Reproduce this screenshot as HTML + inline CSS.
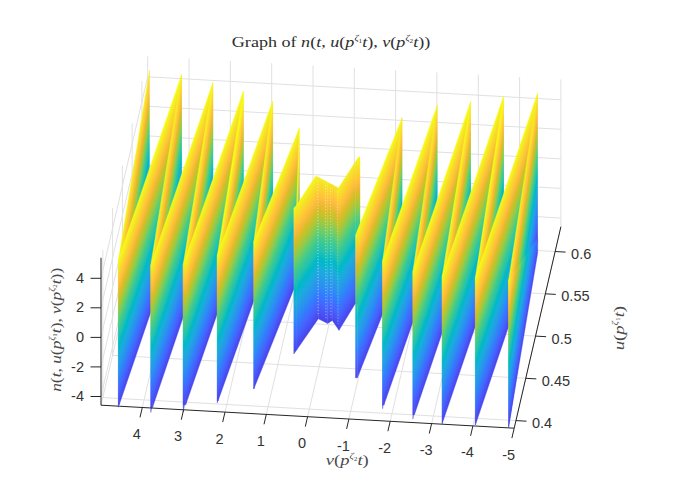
<!DOCTYPE html>
<html><head><meta charset="utf-8"><style>
html,body{margin:0;padding:0;background:#fff;}
svg{display:block;}
.tk{font-family:"Liberation Sans",sans-serif;font-size:14.5px;fill:#333;}
.mt{font-family:"Liberation Serif",serif;fill:#2e2e2e;}
.lb{fill:#4a4a4a;}
</style></head><body>
<svg width="677" height="478" viewBox="0 0 677 478">
<defs><linearGradient id="pa"><stop offset="0.000" stop-color="#4743e7"/><stop offset="0.025" stop-color="#484bef"/><stop offset="0.050" stop-color="#4853f5"/><stop offset="0.075" stop-color="#475bf9"/><stop offset="0.100" stop-color="#4563fd"/><stop offset="0.125" stop-color="#416bfe"/><stop offset="0.150" stop-color="#3974fe"/><stop offset="0.175" stop-color="#317dfc"/><stop offset="0.200" stop-color="#2e85f8"/><stop offset="0.225" stop-color="#2d8df3"/><stop offset="0.250" stop-color="#2994ed"/><stop offset="0.275" stop-color="#259be8"/><stop offset="0.300" stop-color="#22a1e4"/><stop offset="0.325" stop-color="#1da8e0"/><stop offset="0.350" stop-color="#17aeda"/><stop offset="0.375" stop-color="#0cb3d3"/><stop offset="0.400" stop-color="#01b8ca"/><stop offset="0.425" stop-color="#05bbc1"/><stop offset="0.450" stop-color="#16bfb7"/><stop offset="0.475" stop-color="#26c2ad"/><stop offset="0.500" stop-color="#2fc5a2"/><stop offset="0.525" stop-color="#38c896"/><stop offset="0.550" stop-color="#44cb89"/><stop offset="0.575" stop-color="#56cc7b"/><stop offset="0.600" stop-color="#68cd6b"/><stop offset="0.625" stop-color="#7dcc5c"/><stop offset="0.650" stop-color="#91ca4c"/><stop offset="0.675" stop-color="#a5c83d"/><stop offset="0.700" stop-color="#b9c431"/><stop offset="0.725" stop-color="#cac129"/><stop offset="0.750" stop-color="#dabd28"/><stop offset="0.775" stop-color="#e9bb2f"/><stop offset="0.800" stop-color="#f5ba3a"/><stop offset="0.825" stop-color="#febe3c"/><stop offset="0.850" stop-color="#fec636"/><stop offset="0.875" stop-color="#fccf30"/><stop offset="0.900" stop-color="#f9d82c"/><stop offset="0.925" stop-color="#f5e128"/><stop offset="0.950" stop-color="#f5ea24"/><stop offset="0.975" stop-color="#f6f21d"/><stop offset="1.000" stop-color="#f9fb15"/></linearGradient><linearGradient id="g1" href="#pa" gradientUnits="userSpaceOnUse" x1="118.4" y1="407.2" x2="94.9" y2="403.4"/><linearGradient id="g2" href="#pa" gradientUnits="userSpaceOnUse" x1="118.4" y1="404.9" x2="74.2" y2="272.2"/><linearGradient id="g3" href="#pa" gradientUnits="userSpaceOnUse" x1="119.3" y1="404.6" x2="74.3" y2="389.2"/><linearGradient id="g4" href="#pa" gradientUnits="userSpaceOnUse" x1="150.8" y1="412.6" x2="127.6" y2="408.9"/><linearGradient id="g5" href="#pa" gradientUnits="userSpaceOnUse" x1="150.8" y1="407.6" x2="126.9" y2="264.1"/><linearGradient id="g6" href="#pa" gradientUnits="userSpaceOnUse" x1="152.6" y1="407.3" x2="107.7" y2="392.1"/><linearGradient id="g7" href="#pa" gradientUnits="userSpaceOnUse" x1="183.2" y1="412.1" x2="159.8" y2="408.3"/><linearGradient id="g8" href="#pa" gradientUnits="userSpaceOnUse" x1="183.2" y1="404.9" x2="166.4" y2="259.4"/><linearGradient id="g9" href="#pa" gradientUnits="userSpaceOnUse" x1="185.8" y1="404.6" x2="140.2" y2="388.8"/><linearGradient id="g10" href="#pa" gradientUnits="userSpaceOnUse" x1="217.3" y1="403" x2="194.5" y2="399.3"/><linearGradient id="g11" href="#pa" gradientUnits="userSpaceOnUse" x1="217.3" y1="401.3" x2="163.9" y2="276.7"/><linearGradient id="g12" href="#pa" gradientUnits="userSpaceOnUse" x1="218" y1="401" x2="171.2" y2="384.3"/><linearGradient id="g13" href="#pa" gradientUnits="userSpaceOnUse" x1="253.8" y1="389" x2="234.4" y2="386.4"/><linearGradient id="g14" href="#pa" gradientUnits="userSpaceOnUse" x1="253.8" y1="389" x2="202.8" y2="368.6"/><linearGradient id="g15" href="#pa" gradientUnits="userSpaceOnUse" x1="296.6" y1="350" x2="291.4" y2="349.8"/><linearGradient id="g16" href="#pa" gradientUnits="userSpaceOnUse" x1="293.8" y1="354" x2="224.5" y2="305.5"/><linearGradient id="g17" href="#pa" gradientUnits="userSpaceOnUse" x1="296.6" y1="350" x2="227.5" y2="301.9"/><linearGradient id="g18" href="#pa" gradientUnits="userSpaceOnUse" x1="318.3" y1="318.8" x2="376.9" y2="200.3"/><linearGradient id="g19" href="#pa" gradientUnits="userSpaceOnUse" x1="327.6" y1="323.4" x2="261.7" y2="216.6"/><linearGradient id="g20" href="#pa" gradientUnits="userSpaceOnUse" x1="332.3" y1="320.5" x2="401" y2="273.5"/><linearGradient id="g21" href="#pa" gradientUnits="userSpaceOnUse" x1="339" y1="330.3" x2="273.4" y2="290.2"/><linearGradient id="g22" href="#pa" gradientUnits="userSpaceOnUse" x1="355.2" y1="303.8" x2="364.4" y2="156.9"/><linearGradient id="g23" href="#pa" gradientUnits="userSpaceOnUse" x1="355.5" y1="377.9" x2="333.9" y2="233.7"/><linearGradient id="g24" href="#pa" gradientUnits="userSpaceOnUse" x1="357.5" y1="377.6" x2="307" y2="357.6"/><linearGradient id="g25" href="#pa" gradientUnits="userSpaceOnUse" x1="382.6" y1="408.7" x2="363" y2="406.1"/><linearGradient id="g26" href="#pa" gradientUnits="userSpaceOnUse" x1="382.6" y1="405.3" x2="350.3" y2="265.3"/><linearGradient id="g27" href="#pa" gradientUnits="userSpaceOnUse" x1="383.9" y1="405" x2="338" y2="388.9"/><linearGradient id="g28" href="#pa" gradientUnits="userSpaceOnUse" x1="412.9" y1="419.1" x2="391.9" y2="416.1"/><linearGradient id="g29" href="#pa" gradientUnits="userSpaceOnUse" x1="412.9" y1="414.7" x2="386.2" y2="272.3"/><linearGradient id="g30" href="#pa" gradientUnits="userSpaceOnUse" x1="414.5" y1="414.4" x2="369.7" y2="399.2"/><linearGradient id="g31" href="#pa" gradientUnits="userSpaceOnUse" x1="442.2" y1="423.6" x2="418.9" y2="419.8"/><linearGradient id="g32" href="#pa" gradientUnits="userSpaceOnUse" x1="442.2" y1="423.6" x2="397.2" y2="408.3"/><linearGradient id="g33" href="#pa" gradientUnits="userSpaceOnUse" x1="475.4" y1="425" x2="453.1" y2="421.5"/><linearGradient id="g34" href="#pa" gradientUnits="userSpaceOnUse" x1="475.4" y1="425" x2="430.8" y2="410"/><linearGradient id="g35" href="#pa" gradientUnits="userSpaceOnUse" x1="508.6" y1="427.3" x2="486.3" y2="423.9"/><linearGradient id="g36" href="#pa" gradientUnits="userSpaceOnUse" x1="508.6" y1="427.3" x2="484.7" y2="423.3"/></defs>
<g><line x1="560.9" y1="226.7" x2="560.9" y2="79.3" stroke="#e0e0e0" stroke-width="1"/><line x1="519.6" y1="224.4" x2="519.6" y2="77" stroke="#e0e0e0" stroke-width="1"/><line x1="478.3" y1="222.1" x2="478.3" y2="74.7" stroke="#e0e0e0" stroke-width="1"/><line x1="436.9" y1="219.8" x2="436.9" y2="72.4" stroke="#e0e0e0" stroke-width="1"/><line x1="395.6" y1="217.5" x2="395.6" y2="70.1" stroke="#e0e0e0" stroke-width="1"/><line x1="354.3" y1="215.2" x2="354.3" y2="67.8" stroke="#e0e0e0" stroke-width="1"/><line x1="313" y1="212.9" x2="313" y2="65.5" stroke="#e0e0e0" stroke-width="1"/><line x1="271.7" y1="210.6" x2="271.7" y2="63.2" stroke="#e0e0e0" stroke-width="1"/><line x1="230.3" y1="208.3" x2="230.3" y2="60.9" stroke="#e0e0e0" stroke-width="1"/><line x1="189" y1="206" x2="189" y2="58.6" stroke="#e0e0e0" stroke-width="1"/><line x1="147.7" y1="203.7" x2="147.7" y2="56.3" stroke="#e0e0e0" stroke-width="1"/><line x1="147.7" y1="195" x2="560.9" y2="218" stroke="#e0e0e0" stroke-width="1"/><line x1="147.7" y1="165.4" x2="560.9" y2="188.4" stroke="#e0e0e0" stroke-width="1"/><line x1="147.7" y1="135.9" x2="560.9" y2="158.9" stroke="#e0e0e0" stroke-width="1"/><line x1="147.7" y1="106.3" x2="560.9" y2="129.3" stroke="#e0e0e0" stroke-width="1"/><line x1="147.7" y1="76.8" x2="560.9" y2="99.8" stroke="#e0e0e0" stroke-width="1"/><line x1="102.8" y1="397.6" x2="102.8" y2="250.1" stroke="#e0e0e0" stroke-width="1"/><line x1="112.6" y1="355.3" x2="112.6" y2="207.9" stroke="#e0e0e0" stroke-width="1"/><line x1="122.4" y1="313.1" x2="122.4" y2="165.6" stroke="#e0e0e0" stroke-width="1"/><line x1="132.1" y1="270.8" x2="132.1" y2="123.4" stroke="#e0e0e0" stroke-width="1"/><line x1="141.9" y1="228.5" x2="141.9" y2="81.1" stroke="#e0e0e0" stroke-width="1"/><line x1="101" y1="396.5" x2="147.7" y2="195" stroke="#e0e0e0" stroke-width="1"/><line x1="101" y1="366.9" x2="147.7" y2="165.4" stroke="#e0e0e0" stroke-width="1"/><line x1="101" y1="337.4" x2="147.7" y2="135.9" stroke="#e0e0e0" stroke-width="1"/><line x1="101" y1="307.8" x2="147.7" y2="106.3" stroke="#e0e0e0" stroke-width="1"/><line x1="101" y1="278.3" x2="147.7" y2="76.8" stroke="#e0e0e0" stroke-width="1"/><line x1="514.2" y1="428.2" x2="560.9" y2="226.7" stroke="#e0e0e0" stroke-width="1"/><line x1="472.9" y1="425.9" x2="519.6" y2="224.4" stroke="#e0e0e0" stroke-width="1"/><line x1="431.6" y1="423.6" x2="478.3" y2="222.1" stroke="#e0e0e0" stroke-width="1"/><line x1="390.2" y1="421.3" x2="436.9" y2="219.8" stroke="#e0e0e0" stroke-width="1"/><line x1="348.9" y1="419" x2="395.6" y2="217.5" stroke="#e0e0e0" stroke-width="1"/><line x1="307.6" y1="416.7" x2="354.3" y2="215.2" stroke="#e0e0e0" stroke-width="1"/><line x1="266.3" y1="414.4" x2="313" y2="212.9" stroke="#e0e0e0" stroke-width="1"/><line x1="225" y1="412.1" x2="271.7" y2="210.6" stroke="#e0e0e0" stroke-width="1"/><line x1="183.6" y1="409.8" x2="230.3" y2="208.3" stroke="#e0e0e0" stroke-width="1"/><line x1="142.3" y1="407.5" x2="189" y2="206" stroke="#e0e0e0" stroke-width="1"/><line x1="101" y1="405.2" x2="147.7" y2="203.7" stroke="#e0e0e0" stroke-width="1"/><line x1="102.8" y1="397.6" x2="516" y2="420.6" stroke="#e0e0e0" stroke-width="1"/><line x1="112.6" y1="355.3" x2="525.8" y2="378.3" stroke="#e0e0e0" stroke-width="1"/><line x1="122.4" y1="313.1" x2="535.6" y2="336.1" stroke="#e0e0e0" stroke-width="1"/><line x1="132.1" y1="270.8" x2="545.3" y2="293.8" stroke="#e0e0e0" stroke-width="1"/><line x1="141.9" y1="228.5" x2="555.1" y2="251.5" stroke="#e0e0e0" stroke-width="1"/></g>
<g><polygon points="118.4,259.8 120.5,247.1 122.5,234.5 124.6,221.8 126.7,209.2 128.8,196.5 130.8,183.9 132.9,171.2 135,158.6 137.1,145.9 139.1,133.3 141.2,120.6 143.3,108 145.4,95.3 147.4,82.7 149.5,70 149.5,217.4 118.4,407.2" fill="url(#g1)" stroke="url(#g1)" stroke-width="0.4" stroke-linejoin="round"/>
<polygon points="118.4,259.8 119.3,257.2 119.3,404.6 118.4,404.9" fill="url(#g2)" stroke="url(#g2)" stroke-width="0.4" stroke-linejoin="round"/>
<polygon points="119.3,257.2 121.3,251.3 123.3,245.4 125.3,239.5 127.3,233.6 129.3,227.7 131.3,221.8 133.3,216 135.4,210.1 137.4,204.2 139.4,198.3 141.4,192.4 143.4,186.5 145.4,180.6 147.4,174.8 149.4,168.9 151.4,163 153.4,157.1 155.4,151.2 157.4,145.3 159.4,139.4 161.4,133.6 163.4,127.7 165.4,121.8 167.5,115.9 169.5,110 171.5,104.1 173.5,98.2 175.5,92.4 177.5,86.5 179.5,80.6 181.5,74.7 181.5,222.1 119.3,404.6" fill="url(#g3)" stroke="url(#g3)" stroke-width="0.4" stroke-linejoin="round"/>
<polygon points="150.8,265.2 152.8,252.5 154.9,239.8 156.9,227.1 159,214.4 161,201.7 163.1,189 165.1,176.3 167.2,163.6 169.2,150.9 171.3,138.2 173.3,125.5 175.4,112.8 177.4,100.1 179.5,87.4 181.5,74.7 181.5,222.1 150.8,412.6" fill="url(#g4)" stroke="url(#g4)" stroke-width="0.4" stroke-linejoin="round"/>
<polygon points="150.8,265.2 152.6,259.9 152.6,407.3 150.8,407.6" fill="url(#g5)" stroke="url(#g5)" stroke-width="0.4" stroke-linejoin="round"/>
<polygon points="152.6,259.9 154.6,253.9 156.6,248 158.6,242.1 160.6,236.2 162.6,230.3 164.6,224.4 166.6,218.5 168.7,212.6 170.7,206.7 172.7,200.8 174.7,194.9 176.7,189 178.7,183 180.7,177.1 182.7,171.2 184.7,165.3 186.7,159.4 188.7,153.5 190.7,147.6 192.7,141.7 194.7,135.8 196.7,129.9 198.8,124 200.8,118.1 202.8,112.1 204.8,106.2 206.8,100.3 208.8,94.4 210.8,88.5 212.8,82.6 212.8,230 152.6,407.3" fill="url(#g6)" stroke="url(#g6)" stroke-width="0.4" stroke-linejoin="round"/>
<polygon points="183.2,264.7 185.3,251.7 187.4,238.6 189.5,225.6 191.7,212.6 193.8,199.6 195.9,186.6 198,173.6 200.1,160.6 202.2,147.6 204.3,134.6 206.5,121.6 208.6,108.6 210.7,95.6 212.8,82.6 212.8,230 183.2,412.1" fill="url(#g7)" stroke="url(#g7)" stroke-width="0.4" stroke-linejoin="round"/>
<polygon points="183.2,264.7 185.8,257.2 185.8,404.6 183.2,404.9" fill="url(#g8)" stroke="url(#g8)" stroke-width="0.4" stroke-linejoin="round"/>
<polygon points="185.8,257.2 187.9,251.2 189.9,245.3 192,239.4 194,233.5 196.1,227.5 198.1,221.6 200.2,215.7 202.2,209.8 204.3,203.8 206.3,197.9 208.4,192 210.4,186.1 212.5,180.2 214.6,174.2 216.6,168.3 218.7,162.4 220.7,156.5 222.8,150.5 224.8,144.6 226.9,138.7 228.9,132.8 231,126.8 233,120.9 235.1,115 237.1,109.1 239.2,103.1 241.2,97.2 243.3,91.3 243.3,238.7 185.8,404.6" fill="url(#g9)" stroke="url(#g9)" stroke-width="0.4" stroke-linejoin="round"/>
<polygon points="217.3,255.5 219.3,242.9 221.3,230.2 223.3,217.6 225.3,205 227.3,192.4 229.3,179.7 231.3,167.1 233.3,154.5 235.3,141.8 237.3,129.2 239.3,116.6 241.3,103.9 243.3,91.3 243.3,238.7 217.3,403" fill="url(#g10)" stroke="url(#g10)" stroke-width="0.4" stroke-linejoin="round"/>
<polygon points="217.3,255.5 218,253.6 218,401 217.3,401.3" fill="url(#g11)" stroke="url(#g11)" stroke-width="0.4" stroke-linejoin="round"/>
<polygon points="218,253.6 220,247.9 222,242.3 224.1,236.6 226.1,231 228.1,225.3 230.1,219.7 232.2,214 234.2,208.4 236.2,202.7 238.2,197.1 240.2,191.4 242.3,185.8 244.3,180.1 246.3,174.5 248.3,168.8 250.4,163.2 252.4,157.5 254.4,151.9 256.4,146.2 258.4,140.6 260.5,134.9 262.5,129.3 264.5,123.6 266.5,118 268.6,112.3 270.6,106.7 272.6,101 272.6,248.4 218,401" fill="url(#g12)" stroke="url(#g12)" stroke-width="0.4" stroke-linejoin="round"/>
<polygon points="253.8,241.6 255.9,225.9 258,210.3 260.1,194.7 262.2,179.1 264.2,163.5 266.3,147.9 268.4,132.2 270.5,116.6 272.6,101 272.6,248.4 253.8,389" fill="url(#g13)" stroke="url(#g13)" stroke-width="0.4" stroke-linejoin="round"/>
<polygon points="253.8,241.6 255.9,236.4 257.9,231.3 260,226.1 262.1,221 264.1,215.8 266.2,210.7 268.2,205.6 270.3,200.4 272.4,195.3 274.4,190.1 276.5,185 278.6,179.8 280.6,174.7 282.7,169.5 284.8,164.4 286.8,159.3 288.9,154.1 290.9,149 293,143.8 295.1,138.7 297.1,133.5 299.2,128.4 299.2,275.8 253.8,389" fill="url(#g14)" stroke="url(#g14)" stroke-width="0.4" stroke-linejoin="round"/>
<polygon points="296.6,205 299.2,128.4 299.2,275.8 296.6,350" fill="url(#g15)" stroke="url(#g15)" stroke-width="0.4" stroke-linejoin="round"/>
<polygon points="293.8,208 296.6,205 296.6,350 293.8,354" fill="url(#g16)" stroke="url(#g16)" stroke-width="0.4" stroke-linejoin="round"/>
<polygon points="296.6,205 298.8,201.7 300.9,198.4 303.1,195.2 305.3,191.9 307.5,188.6 309.6,185.3 311.8,182.1 314,178.8 315.8,176 316.1,176.2 318.3,177.3 318.3,318.8 296.6,350" fill="url(#g17)" stroke="url(#g17)" stroke-width="0.4" stroke-linejoin="round"/>
<polygon points="318.3,177.3 320.6,178.5 323,179.7 325,180.7 325.3,180.8 327.6,182.1 327.6,323.4 318.3,318.8" fill="url(#g18)" stroke="url(#g18)" stroke-width="0.4" stroke-linejoin="round"/>
<polygon points="327.6,182.1 330,183.4 332.3,184.6 332.3,320.5 327.6,323.4" fill="url(#g19)" stroke="url(#g19)" stroke-width="0.4" stroke-linejoin="round"/>
<polygon points="332.3,184.6 334.5,185.8 336.8,187 338.4,187.9 339,187 339,330.3 332.3,320.5" fill="url(#g20)" stroke="url(#g20)" stroke-width="0.4" stroke-linejoin="round"/>
<polygon points="339,187 341,183.9 343.1,180.8 345.1,177.7 347.1,174.6 349.1,171.5 351.1,168.4 353.2,165.3 355.2,162.2 355.2,303.8 339,330.3" fill="url(#g21)" stroke="url(#g21)" stroke-width="0.4" stroke-linejoin="round"/>
<polygon points="355.2,162.2 357.6,158.5 359.2,156.6 360,158 360,304.1 355.2,303.8" fill="url(#g22)" stroke="url(#g22)" stroke-width="0.4" stroke-linejoin="round"/>
<polygon points="355.5,235.2 357.5,230.2 357.5,377.6 355.5,377.9" fill="url(#g23)" stroke="url(#g23)" stroke-width="0.4" stroke-linejoin="round"/>
<polygon points="357.5,230.2 359.5,225 361.5,219.9 363.6,214.8 365.6,209.7 367.6,204.6 369.6,199.5 371.7,194.4 373.7,189.3 375.7,184.2 377.7,179.1 379.8,174 381.8,168.9 383.8,163.8 385.8,158.7 387.8,153.5 389.9,148.4 391.9,143.3 393.9,138.2 395.9,133.1 398,128 400,122.9 402,117.8 402,265.2 357.5,377.6" fill="url(#g24)" stroke="url(#g24)" stroke-width="0.4" stroke-linejoin="round"/>
<polygon points="382.6,261.3 384.8,245.3 386.9,229.4 389.1,213.4 391.2,197.5 393.4,181.6 395.5,165.6 397.7,149.7 399.8,133.7 402,117.8 402,265.2 382.6,408.7" fill="url(#g25)" stroke="url(#g25)" stroke-width="0.4" stroke-linejoin="round"/>
<polygon points="382.6,261.3 383.9,257.6 383.9,405 382.6,405.3" fill="url(#g26)" stroke="url(#g26)" stroke-width="0.4" stroke-linejoin="round"/>
<polygon points="383.9,257.6 385.9,251.7 388,245.9 390,240 392.1,234.1 394.1,228.3 396.2,222.4 398.2,216.6 400.3,210.7 402.3,204.9 404.4,199 406.4,193.2 408.5,187.3 410.5,181.5 412.5,175.6 414.6,169.8 416.6,163.9 418.7,158.1 420.7,152.2 422.8,146.4 424.8,140.5 426.9,134.7 428.9,128.8 431,123 433,117.1 435.1,111.3 437.1,105.4 437.1,252.8 383.9,405" fill="url(#g27)" stroke="url(#g27)" stroke-width="0.4" stroke-linejoin="round"/>
<polygon points="412.9,271.7 414.9,257.8 416.9,244 418.9,230.1 421,216.2 423,202.4 425,188.5 427,174.7 429,160.8 431.1,147 433.1,133.1 435.1,119.3 437.1,105.4 437.1,252.8 412.9,419.1" fill="url(#g28)" stroke="url(#g28)" stroke-width="0.4" stroke-linejoin="round"/>
<polygon points="412.9,271.7 414.5,267 414.5,414.4 412.9,414.7" fill="url(#g29)" stroke="url(#g29)" stroke-width="0.4" stroke-linejoin="round"/>
<polygon points="414.5,267 416.5,261.1 418.5,255.2 420.5,249.3 422.5,243.4 424.5,237.5 426.5,231.6 428.5,225.7 430.5,219.8 432.5,213.9 434.5,208 436.5,202.1 438.5,196.2 440.5,190.3 442.5,184.4 444.5,178.5 446.5,172.6 448.5,166.7 450.5,160.8 452.5,154.9 454.5,149 456.5,143.1 458.5,137.2 460.5,131.3 462.5,125.4 464.5,119.5 466.5,113.6 468.5,107.7 470.5,101.8 470.5,249.2 414.5,414.4" fill="url(#g30)" stroke="url(#g30)" stroke-width="0.4" stroke-linejoin="round"/>
<polygon points="442.2,276.2 444.2,263.7 446.2,251.2 448.3,238.8 450.3,226.3 452.3,213.9 454.3,201.4 456.4,189 458.4,176.5 460.4,164.1 462.4,151.6 464.4,139.2 466.5,126.7 468.5,114.3 470.5,101.8 470.5,249.2 442.2,423.6" fill="url(#g31)" stroke="url(#g31)" stroke-width="0.4" stroke-linejoin="round"/>
<polygon points="442.2,276.2 444.2,270.2 446.3,264.2 448.3,258.2 450.4,252.2 452.4,246.2 454.5,240.2 456.5,234.2 458.5,228.2 460.6,222.2 462.6,216.2 464.7,210.2 466.7,204.2 468.8,198.2 470.8,192.2 472.9,186.2 474.9,180.2 476.9,174.2 479,168.2 481,162.2 483.1,156.3 485.1,150.3 487.2,144.3 489.2,138.3 491.2,132.3 493.3,126.3 495.3,120.3 497.4,114.3 499.4,108.3 501.5,102.3 503.5,96.3 503.5,243.7 442.2,423.6" fill="url(#g32)" stroke="url(#g32)" stroke-width="0.4" stroke-linejoin="round"/>
<polygon points="475.4,277.6 477.4,264.6 479.4,251.7 481.4,238.7 483.4,225.8 485.4,212.8 487.4,199.9 489.4,186.9 491.5,174 493.5,161 495.5,148.1 497.5,135.1 499.5,122.2 501.5,109.2 503.5,96.3 503.5,243.7 475.4,425" fill="url(#g33)" stroke="url(#g33)" stroke-width="0.4" stroke-linejoin="round"/>
<polygon points="475.4,277.6 477.4,271.6 479.4,265.7 481.4,259.8 483.4,253.8 485.4,247.9 487.4,242 489.4,236 491.4,230.1 493.4,224.1 495.4,218.2 497.4,212.3 499.4,206.3 501.4,200.4 503.4,194.5 505.4,188.5 507.4,182.6 509.4,176.7 511.4,170.7 513.4,164.8 515.4,158.9 517.4,152.9 519.4,147 521.4,141.1 523.4,135.1 525.4,129.2 527.4,123.3 529.4,117.3 531.4,111.4 533.4,105.5 535.4,99.5 537.4,93.6 537.4,241 475.4,425" fill="url(#g34)" stroke="url(#g34)" stroke-width="0.4" stroke-linejoin="round"/>
<polygon points="508.6,279.9 510.7,266.6 512.7,253.2 514.8,239.9 516.8,226.6 518.9,213.3 520.9,200 523,186.7 525.1,173.4 527.1,160.1 529.2,146.8 531.2,133.5 533.3,120.2 535.3,106.9 537.4,93.6 537.4,241 508.6,427.3" fill="url(#g35)" stroke="url(#g35)" stroke-width="0.4" stroke-linejoin="round"/>
<polygon points="508.6,279.9 510.7,276.9 512.8,273.9 514.8,270.9 516.9,267.9 519,264.9 521.1,261.9 523.2,258.9 525.2,256 527.3,253 529.4,250 531.5,247 533.5,244 535.6,241 537.7,238 537.7,252.8 508.6,427.3" fill="url(#g36)" stroke="url(#g36)" stroke-width="0.4" stroke-linejoin="round"/>
<line x1="317.5" y1="180.9" x2="318" y2="316" stroke="#fff" stroke-opacity="0.4" stroke-width="1.1" stroke-dasharray="1.2 1.8"/>
<line x1="325.5" y1="185" x2="326" y2="318.4" stroke="#fff" stroke-opacity="0.4" stroke-width="1.1" stroke-dasharray="1.2 1.8"/>
<line x1="330.5" y1="187.7" x2="331" y2="317.6" stroke="#fff" stroke-opacity="0.4" stroke-width="1.1" stroke-dasharray="1.2 1.8"/>
<line x1="337.5" y1="191.4" x2="338" y2="324.1" stroke="#fff" stroke-opacity="0.4" stroke-width="1.1" stroke-dasharray="1.2 1.8"/></g>
<g><line x1="101" y1="405.2" x2="101" y2="257.8" stroke="#262626" stroke-width="1"/><line x1="101" y1="405.2" x2="514.2" y2="428.2" stroke="#262626" stroke-width="1"/><line x1="514.2" y1="428.2" x2="560.9" y2="226.7" stroke="#262626" stroke-width="1"/><line x1="90.5" y1="396.5" x2="101" y2="396.5" stroke="#262626" stroke-width="1"/><line x1="90.5" y1="366.9" x2="101" y2="366.9" stroke="#262626" stroke-width="1"/><line x1="90.5" y1="337.4" x2="101" y2="337.4" stroke="#262626" stroke-width="1"/><line x1="90.5" y1="307.8" x2="101" y2="307.8" stroke="#262626" stroke-width="1"/><line x1="90.5" y1="278.3" x2="101" y2="278.3" stroke="#262626" stroke-width="1"/><line x1="514.2" y1="428.2" x2="511.9" y2="438.1" stroke="#262626" stroke-width="1"/><line x1="472.9" y1="425.9" x2="470.6" y2="435.8" stroke="#262626" stroke-width="1"/><line x1="431.6" y1="423.6" x2="429.3" y2="433.5" stroke="#262626" stroke-width="1"/><line x1="390.2" y1="421.3" x2="387.9" y2="431.2" stroke="#262626" stroke-width="1"/><line x1="348.9" y1="419" x2="346.6" y2="428.9" stroke="#262626" stroke-width="1"/><line x1="307.6" y1="416.7" x2="305.3" y2="426.6" stroke="#262626" stroke-width="1"/><line x1="266.3" y1="414.4" x2="264" y2="424.3" stroke="#262626" stroke-width="1"/><line x1="225" y1="412.1" x2="222.7" y2="422" stroke="#262626" stroke-width="1"/><line x1="183.6" y1="409.8" x2="181.3" y2="419.7" stroke="#262626" stroke-width="1"/><line x1="142.3" y1="407.5" x2="140" y2="417.4" stroke="#262626" stroke-width="1"/><line x1="516" y1="420.6" x2="526.5" y2="421.2" stroke="#262626" stroke-width="1"/><line x1="525.8" y1="378.3" x2="536.3" y2="378.9" stroke="#262626" stroke-width="1"/><line x1="535.6" y1="336.1" x2="546.1" y2="336.7" stroke="#262626" stroke-width="1"/><line x1="545.3" y1="293.8" x2="555.8" y2="294.4" stroke="#262626" stroke-width="1"/><line x1="555.1" y1="251.5" x2="565.6" y2="252.1" stroke="#262626" stroke-width="1"/></g>
<g class="tk"><text x="84" y="401.1" text-anchor="end">-4</text><text x="84" y="371.5" text-anchor="end">-2</text><text x="84" y="342" text-anchor="end">0</text><text x="84" y="312.4" text-anchor="end">2</text><text x="84" y="282.9" text-anchor="end">4</text><text x="508.7" y="459.7" text-anchor="middle">-5</text><text x="467.4" y="457.4" text-anchor="middle">-4</text><text x="426.1" y="455.1" text-anchor="middle">-3</text><text x="384.7" y="452.8" text-anchor="middle">-2</text><text x="343.4" y="450.5" text-anchor="middle">-1</text><text x="302.1" y="448.2" text-anchor="middle">0</text><text x="260.8" y="445.9" text-anchor="middle">1</text><text x="219.5" y="443.6" text-anchor="middle">2</text><text x="178.1" y="441.3" text-anchor="middle">3</text><text x="136.8" y="439" text-anchor="middle">4</text><text x="532" y="428.1">0.4</text><text x="541.8" y="385.8">0.45</text><text x="551.6" y="343.6">0.5</text><text x="561.3" y="301.3">0.55</text><text x="571.1" y="259">0.6</text></g>
<text class="mt" x="231.8" y="46.6" font-size="15" textLength="198.5" lengthAdjust="spacingAndGlyphs">Graph of <tspan font-style="italic">n</tspan>(<tspan font-style="italic">t</tspan>, <tspan font-style="italic">u</tspan>(<tspan font-style="italic">p</tspan><tspan font-size="8.5" dy="-6" font-style="italic">ζ</tspan><tspan font-size="6" dy="2">1</tspan><tspan dy="4" font-style="italic">t</tspan>), <tspan font-style="italic">v</tspan>(<tspan font-style="italic">p</tspan><tspan font-size="8.5" dy="-6" font-style="italic">ζ</tspan><tspan font-size="6" dy="2">2</tspan><tspan dy="4" font-style="italic">t</tspan>))</text>
<text class="mt lb" x="325.8" y="464.7" font-size="15" textLength="43" lengthAdjust="spacingAndGlyphs"><tspan font-style="italic">v</tspan>(<tspan font-style="italic">p</tspan><tspan font-size="8.5" dy="-6" font-style="italic">ζ</tspan><tspan font-size="6" dy="2">2</tspan><tspan dy="4" font-style="italic">t</tspan>)</text>
<text class="mt lb" transform="translate(624.3,350.3) rotate(-90)" font-size="15" textLength="44.4" lengthAdjust="spacingAndGlyphs"><tspan font-style="italic">u</tspan>(<tspan font-style="italic">p</tspan><tspan font-size="8.5" dy="-6" font-style="italic">ζ</tspan><tspan font-size="6" dy="2">1</tspan><tspan dy="4" font-style="italic">t</tspan>)</text>
<text class="mt lb" transform="translate(60.6,391.8) rotate(-90)" font-size="15" textLength="124" lengthAdjust="spacingAndGlyphs"><tspan font-style="italic">n</tspan>(<tspan font-style="italic">t</tspan>, <tspan font-style="italic">u</tspan>(<tspan font-style="italic">p</tspan><tspan font-size="8.5" dy="-6" font-style="italic">ζ</tspan><tspan font-size="6" dy="2">1</tspan><tspan dy="4" font-style="italic">t</tspan>), <tspan font-style="italic">v</tspan>(<tspan font-style="italic">p</tspan><tspan font-size="8.5" dy="-6" font-style="italic">ζ</tspan><tspan font-size="6" dy="2">2</tspan><tspan dy="4" font-style="italic">t</tspan>))</text>
</svg></body></html>
